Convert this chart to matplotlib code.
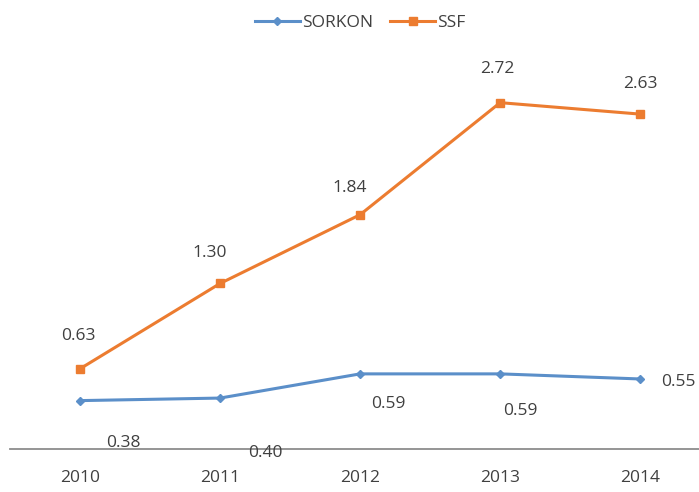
import numpy as np
import matplotlib
matplotlib.use('Agg')
import matplotlib.pyplot as plt

years = ['2010', '2011', '2012', '2013', '2014']
sorkon = [0.38, 0.40, 0.59, 0.59, 0.55]
ssf = [0.63, 1.30, 1.84, 2.72, 2.63]

# label offsets in pixels (dx, dy) relative to each point
sorkon_off = [(43, -42), (45, -55), (28, -30), (20, -37), (38, -3)]
ssf_off = [(-2, 33), (-10, 30), (-10, 27), (-3, 34), (0, 30)]

BLUE, ORANGE, INK = '#5b8fc9', '#ec7c30', '#404040'
plt.rcParams.update({'font.family': ['Open Sans', 'DejaVu Sans'], 'font.size': 12.5,
                     'text.color': INK, 'xtick.color': INK})

fig = plt.figure(figsize=(6.99, 4.92), dpi=100)
ax = fig.add_axes([10/699, 43/492, 689/699, 382/492])
x = np.arange(len(years))
ax.plot(x, sorkon, color=BLUE, lw=2.2, marker='D', ms=4.5, label='SORKON')
ax.plot(x, ssf, color=ORANGE, lw=2.2, marker='s', ms=6, label='SSF')

for xi, v, (dx, dy) in zip(x, sorkon, sorkon_off):
    ax.annotate(f'{v:.2f}', (xi, v), xytext=(dx, dy), textcoords='offset pixels',
                ha='center', va='center', color=INK)
for xi, v, (dx, dy) in zip(x, ssf, ssf_off):
    ax.annotate(f'{v:.2f}', (xi, v), xytext=(dx, dy), textcoords='offset pixels',
                ha='center', va='center', color=INK)

ax.set_xlim(-0.5, 4.42)
ax.set_ylim(0, 3.0)
ax.set_xticks(x, years)
ax.set_yticks([])
ax.tick_params(axis='x', length=0, pad=15)
for sp in ['top', 'right', 'left']:
    ax.spines[sp].set_visible(False)
ax.spines['bottom'].set_color('#8c8c8c')
ax.spines['bottom'].set_linewidth(1.3)

fig.legend(loc='center', bbox_to_anchor=(360/699, 1 - 23/492), ncol=2, frameon=False,
           handlelength=2.6, handletextpad=0.1, columnspacing=1.0)

fig.savefig('out.png', dpi=100, facecolor='white')
